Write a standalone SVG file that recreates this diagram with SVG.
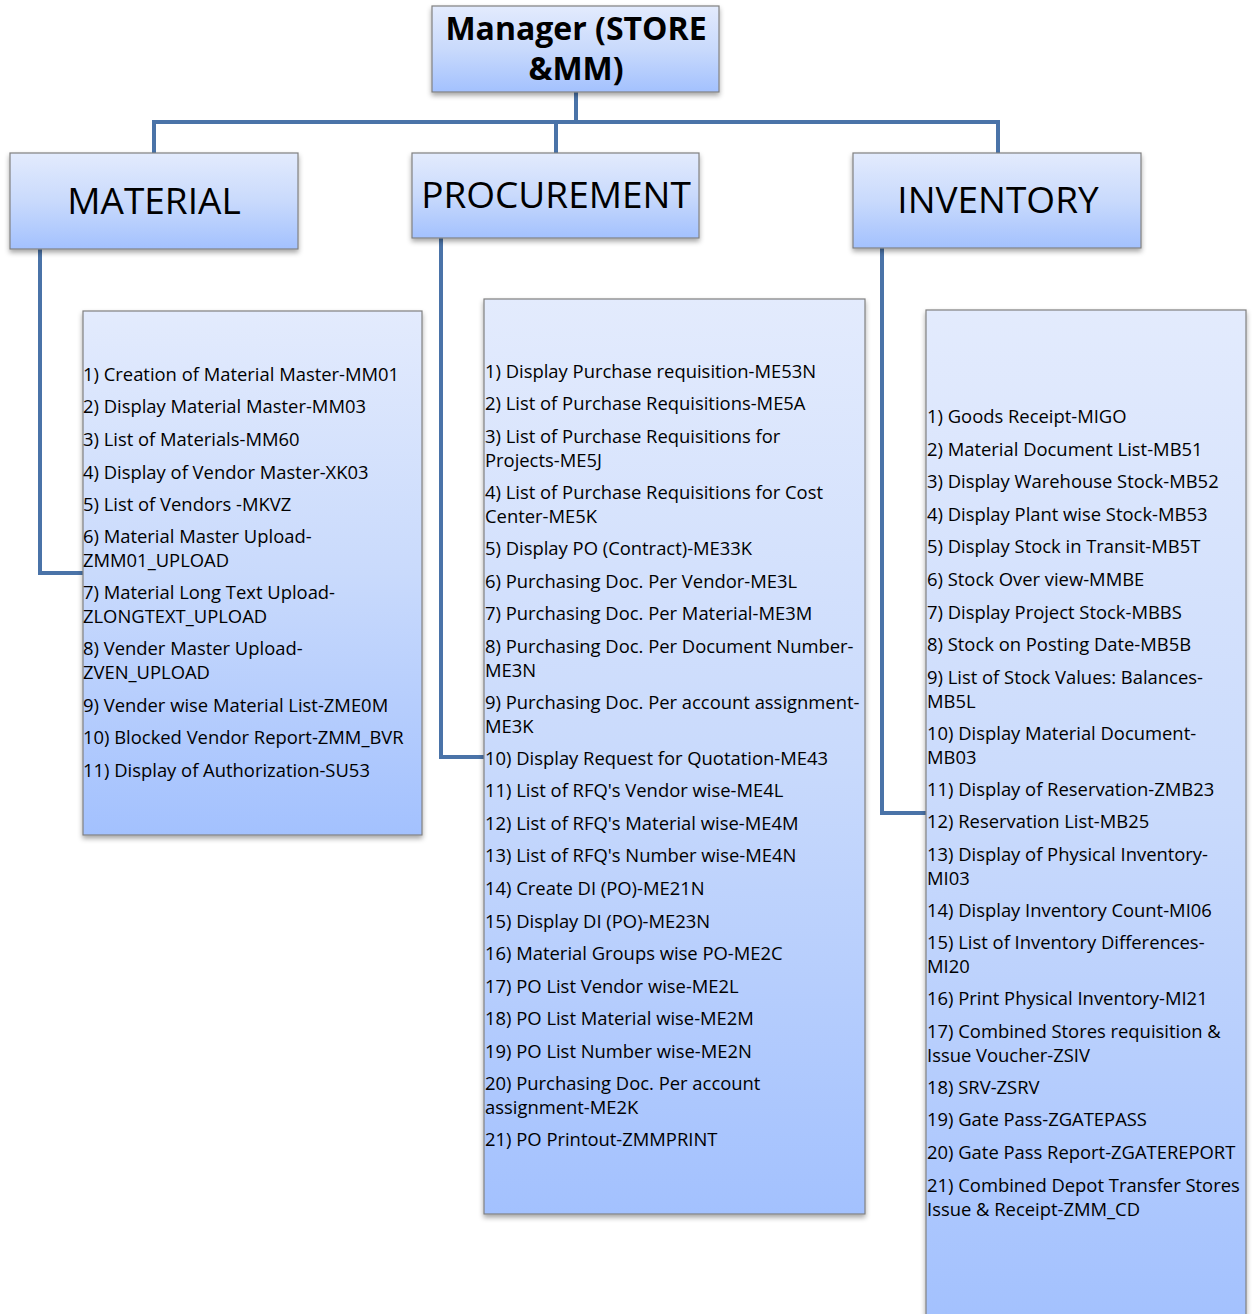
<svg xmlns="http://www.w3.org/2000/svg" width="1257" height="1314" viewBox="0 0 1257 1314">
<defs>
<linearGradient id="g" x1="0" y1="0" x2="0" y2="1">
<stop offset="0" stop-color="#e3ebfd"/>
<stop offset="0.5" stop-color="#c9dafc"/>
<stop offset="1" stop-color="#a3c1fe"/>
</linearGradient>
<filter id="sh" x="-5%" y="-5%" width="110%" height="115%">
<feDropShadow dx="0" dy="3" stdDeviation="2.5" flood-color="#000" flood-opacity="0.35"/>
</filter>
<style>
.box{fill:url(#g);stroke:#808080;stroke-width:1.2;filter:url(#sh)}
.con{fill:none;stroke:#4a73a8;stroke-width:4}
.hd{font-family:"Open Sans","Liberation Sans",sans-serif;font-size:37px;fill:#000;text-anchor:middle}
.mg{font-family:"Open Sans","Liberation Sans",sans-serif;font-size:32px;font-weight:bold;fill:#000;text-anchor:middle}
.it{font-family:"Open Sans","Liberation Sans",sans-serif;font-size:18.4px;fill:#000}
</style>
</defs>
<rect width="1257" height="1314" fill="#fff"/>
<g id="connectors">
<path class="con" d="M576 92V122M154 153V122H998V153M556 122V153"/>
<path class="con" d="M40 249V573H84"/>
<path class="con" d="M441 238V757H485"/>
<path class="con" d="M882 248V813H927"/>
</g>
<g id="manager">
<rect class="box" x="432" y="6" width="287" height="86"/>
<text class="mg" x="576" y="40">Manager (STORE</text>
<text class="mg" x="576" y="80">&amp;MM)</text>
</g>
<g id="material">
<rect class="box" x="10" y="153" width="288" height="96"/>
<text class="hd" x="154" y="214">MATERIAL</text>
</g>
<g id="procurement">
<rect class="box" x="412" y="153" width="287" height="85"/>
<text class="hd" x="556" y="208">PROCUREMENT</text>
</g>
<g id="inventory">
<rect class="box" x="853" y="153" width="288" height="95"/>
<text class="hd" x="998" y="213">INVENTORY</text>
</g>
<g id="material-list">
<rect class="box" x="83" y="311" width="339" height="524"/>
<g class="it">
<text x="83" y="381">1) Creation of Material Master-MM01</text>
<text x="83" y="413">2) Display Material Master-MM03</text>
<text x="83" y="446">3) List of Materials-MM60</text>
<text x="83" y="479">4) Display of Vendor Master-XK03</text>
<text x="83" y="511">5) List of Vendors -MKVZ</text>
<text x="83" y="543">6) Material Master Upload-</text>
<text x="83" y="567">ZMM01_UPLOAD</text>
<text x="83" y="599">7) Material Long Text Upload-</text>
<text x="83" y="623">ZLONGTEXT_UPLOAD</text>
<text x="83" y="655">8) Vender Master Upload-</text>
<text x="83" y="679">ZVEN_UPLOAD</text>
<text x="83" y="712">9) Vender wise Material List-ZME0M</text>
<text x="83" y="744">10) Blocked Vendor Report-ZMM_BVR</text>
<text x="83" y="777">11) Display of Authorization-SU53</text>
</g>
</g>
<g id="procurement-list">
<rect class="box" x="484" y="299" width="381" height="915"/>
<g class="it">
<text x="485" y="378">1) Display Purchase requisition-ME53N</text>
<text x="485" y="410">2) List of Purchase Requisitions-ME5A</text>
<text x="485" y="443">3) List of Purchase Requisitions for</text>
<text x="485" y="467">Projects-ME5J</text>
<text x="485" y="499">4) List of Purchase Requisitions for Cost</text>
<text x="485" y="523">Center-ME5K</text>
<text x="485" y="555">5) Display PO (Contract)-ME33K</text>
<text x="485" y="588">6) Purchasing Doc. Per Vendor-ME3L</text>
<text x="485" y="620">7) Purchasing Doc. Per Material-ME3M</text>
<text x="485" y="653">8) Purchasing Doc. Per Document Number-</text>
<text x="485" y="677">ME3N</text>
<text x="485" y="709">9) Purchasing Doc. Per account assignment-</text>
<text x="485" y="733">ME3K</text>
<text x="485" y="765">10) Display Request for Quotation-ME43</text>
<text x="485" y="797">11) List of RFQ's Vendor wise-ME4L</text>
<text x="485" y="830">12) List of RFQ's Material wise-ME4M</text>
<text x="485" y="862">13) List of RFQ's Number wise-ME4N</text>
<text x="485" y="895">14) Create DI (PO)-ME21N</text>
<text x="485" y="928">15) Display DI (PO)-ME23N</text>
<text x="485" y="960">16) Material Groups wise PO-ME2C</text>
<text x="485" y="993">17) PO List Vendor wise-ME2L</text>
<text x="485" y="1025">18) PO List Material wise-ME2M</text>
<text x="485" y="1058">19) PO List Number wise-ME2N</text>
<text x="485" y="1090">20) Purchasing Doc. Per account</text>
<text x="485" y="1114">assignment-ME2K</text>
<text x="485" y="1146">21) PO Printout-ZMMPRINT</text>
</g>
</g>
<g id="inventory-list">
<rect class="box" x="926" y="310" width="320" height="1010"/>
<g class="it">
<text x="927" y="423">1) Goods Receipt-MIGO</text>
<text x="927" y="456">2) Material Document List-MB51</text>
<text x="927" y="488">3) Display Warehouse Stock-MB52</text>
<text x="927" y="521">4) Display Plant wise Stock-MB53</text>
<text x="927" y="553">5) Display Stock in Transit-MB5T</text>
<text x="927" y="586">6) Stock Over view-MMBE</text>
<text x="927" y="619">7) Display Project Stock-MBBS</text>
<text x="927" y="651">8) Stock on Posting Date-MB5B</text>
<text x="927" y="684">9) List of Stock Values: Balances-</text>
<text x="927" y="708">MB5L</text>
<text x="927" y="740">10) Display Material Document-</text>
<text x="927" y="764">MB03</text>
<text x="927" y="796">11) Display of Reservation-ZMB23</text>
<text x="927" y="828">12) Reservation List-MB25</text>
<text x="927" y="861">13) Display of Physical Inventory-</text>
<text x="927" y="885">MI03</text>
<text x="927" y="917">14) Display Inventory Count-MI06</text>
<text x="927" y="949">15) List of Inventory Differences-</text>
<text x="927" y="973">MI20</text>
<text x="927" y="1005">16) Print Physical Inventory-MI21</text>
<text x="927" y="1038">17) Combined Stores requisition &amp;</text>
<text x="927" y="1062">Issue Voucher-ZSIV</text>
<text x="927" y="1094">18) SRV-ZSRV</text>
<text x="927" y="1126">19) Gate Pass-ZGATEPASS</text>
<text x="927" y="1159">20) Gate Pass Report-ZGATEREPORT</text>
<text x="927" y="1192">21) Combined Depot Transfer Stores</text>
<text x="927" y="1216">Issue &amp; Receipt-ZMM_CD</text>
</g>
</g>
</svg>
